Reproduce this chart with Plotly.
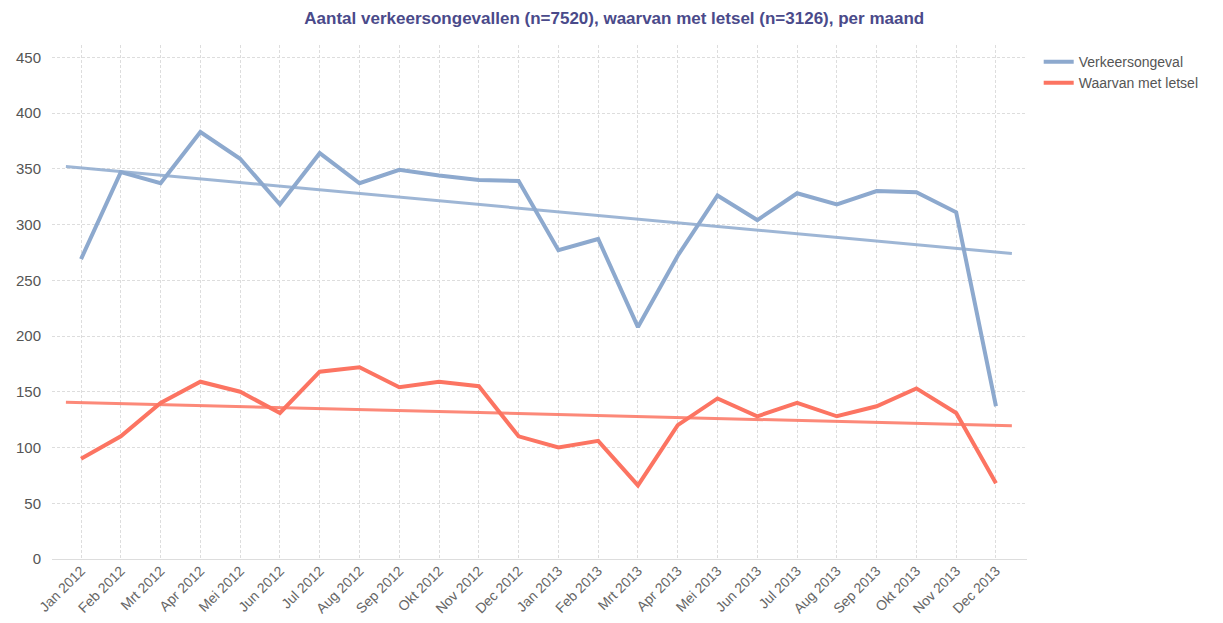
import plotly.graph_objects as go

# Months (Dutch labels as in the source)
maanden = [
    "Jan 2012", "Feb 2012", "Mrt 2012", "Apr 2012", "Mei 2012", "Jun 2012",
    "Jul 2012", "Aug 2012", "Sep 2012", "Okt 2012", "Nov 2012", "Dec 2012",
    "Jan 2013", "Feb 2013", "Mrt 2013", "Apr 2013", "Mei 2013", "Jun 2013",
    "Jul 2013", "Aug 2013", "Sep 2013", "Okt 2013", "Nov 2013", "Dec 2013",
]

verkeersongeval = [269, 347, 337, 383, 359, 318, 364, 337, 349, 344, 340, 339,
                   277, 287, 208, 272, 326, 304, 328, 318, 330, 329, 311, 137]
met_letsel = [90, 110, 140, 159, 150, 131, 168, 172, 154, 159, 155, 110,
              100, 106, 66, 120, 144, 128, 140, 128, 137, 153, 131, 68]

# trend lines (start/end of the fitted line)
trend_pos = [-0.38, 23.4]
trend_verkeer = [352, 274]
trend_letsel = [140.5, 119.5]

BLUE = "#8DA9CE"
RED = "#FC7462"
FONT = "Liberation Sans, Arial, sans-serif"

pos = list(range(len(maanden)))

fig = go.Figure()
fig.add_trace(go.Scatter(
    x=pos, y=verkeersongeval, mode="lines", name="Verkeersongeval",
    line=dict(color=BLUE, width=4),
))
fig.add_trace(go.Scatter(
    x=pos, y=met_letsel, mode="lines", name="Waarvan met letsel",
    line=dict(color=RED, width=4),
))
fig.add_trace(go.Scatter(
    x=trend_pos, y=trend_verkeer, mode="lines", showlegend=False,
    line=dict(color="rgba(141,169,206,0.85)", width=3),
))
fig.add_trace(go.Scatter(
    x=trend_pos, y=trend_letsel, mode="lines", showlegend=False,
    line=dict(color="rgba(252,116,98,0.85)", width=3),
))

# page body has an 8px margin, so the figure is a bit smaller than the window
fig.update_layout(
    width=1215, height=615,
    margin=dict(l=44, r=196, t=37, b=64),
    paper_bgcolor="white", plot_bgcolor="white",
    font=dict(family=FONT, color="#555555"),
    title=dict(
        text="<b>Aantal verkeersongevallen (n=7520), waarvan met letsel (n=3126), per maand</b>",
        font=dict(size=17, color="#4A4A8A", family=FONT),
        x=0.499, xref="container", xanchor="center",
        y=0.984, yref="container", yanchor="middle",
    ),
    legend=dict(
        x=1.012, y=0.998, xanchor="left", yanchor="top",
        font=dict(size=14, color="#555555", family=FONT),
        itemwidth=30, tracegroupgap=0,
        bgcolor="rgba(0,0,0,0)",
    ),
)
fig.update_xaxes(
    range=[-0.73, 23.78], automargin=False,
    tickmode="array", tickvals=pos, ticktext=maanden, tickangle=-45,
    tickfont=dict(size=14, color="#666666"),
    showgrid=True, gridcolor="#DDDDDD", griddash="3px,2px", gridwidth=1,
    zeroline=False, showline=False, ticks="",
)
fig.update_yaxes(
    range=[0, 461], automargin=False,
    tickvals=[0, 50, 100, 150, 200, 250, 300, 350, 400, 450],
    tickfont=dict(size=15, color="#555555"),
    showgrid=True, gridcolor="#DDDDDD", griddash="3px,2px", gridwidth=1,
    zeroline=True, zerolinecolor="#DDDDDD", zerolinewidth=1,
    showline=False, ticks="", ticklabelstandoff=10,
)

fig.write_html("out.html")
